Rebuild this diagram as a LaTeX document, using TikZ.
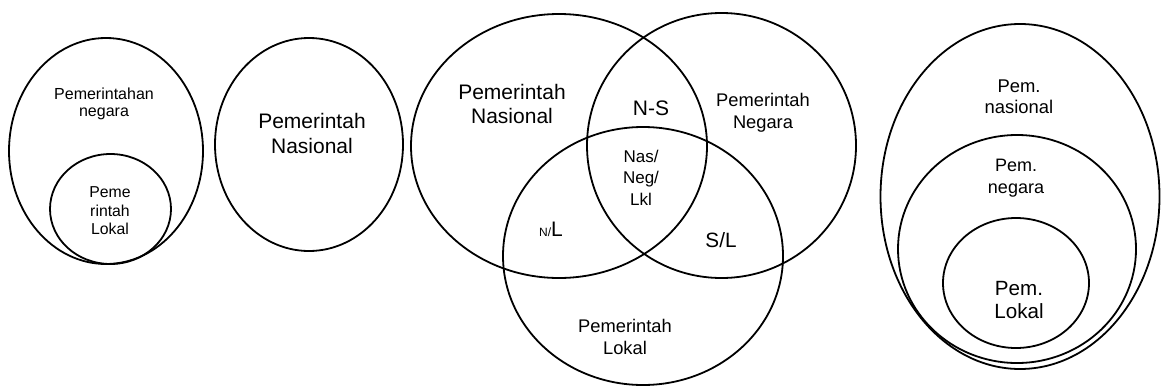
\documentclass[tikz,border=0pt]{standalone}
\usepackage{fontspec}
\setmainfont{Liberation Sans}
\begin{document}
\begin{tikzpicture}[x=1pt,y=-1pt,
  ring/.style={draw=black,line width=1.8pt},
  lbl/.style={inner sep=0pt,anchor=base,text=black}]
\useasboundingbox (0,0) rectangle (1161,388);
% left group
\draw[ring] (106,151) ellipse [x radius=97,y radius=113];
\draw[ring] (110.5,209) ellipse [x radius=60.5,y radius=55];
\node[lbl,font=\fontsize{16}{18}\selectfont] (a1) at (104,99) {Pemerintahan};
\node[lbl,font=\fontsize{16}{18}\selectfont] (a2) at (104,116) {negara};
\node[lbl,font=\fontsize{15.8}{18}\selectfont] (b1) at (110,197) {Peme};
\node[lbl,font=\fontsize{15.8}{18}\selectfont] (b2) at (110,216) {rintah};
\node[lbl,font=\fontsize{15.8}{18}\selectfont] (b3) at (110,234) {Lokal};
% second ellipse
\draw[ring] (309,144.5) ellipse [x radius=94,y radius=106.5];
\node[lbl,font=\fontsize{21}{24}\selectfont] (c1) at (312,128) {Pemerintah};
\node[lbl,font=\fontsize{21}{24}\selectfont] (c2) at (312,153) {Nasional};
% Venn
\draw[ring] (559,146) ellipse [x radius=148,y radius=132];
\draw[ring] (721.5,145.5) ellipse [x radius=134.5,y radius=132.5];
\draw[ring] (643,256) ellipse [x radius=140,y radius=129];
\node[lbl,font=\fontsize{21}{24}\selectfont] (d1) at (512,99) {Pemerintah};
\node[lbl,font=\fontsize{21}{24}\selectfont] (d2) at (512,123) {Nasional};
\node[lbl,font=\fontsize{21}{24}\selectfont] (ns) at (651,115) {N-S};
\node[lbl,font=\fontsize{18.3}{22}\selectfont] (e1) at (763,106) {Pemerintah};
\node[lbl,font=\fontsize{18.3}{22}\selectfont] (e2) at (763,128) {Negara};
\node[lbl,font=\fontsize{17}{20}\selectfont] (t1) at (641,162) {Nas/};
\node[lbl,font=\fontsize{17}{20}\selectfont] (t2) at (641,183) {Neg/};
\node[lbl,font=\fontsize{17}{20}\selectfont] (t3) at (641,205) {Lkl};
\node[lbl] (nl) at (551,236) {\fontsize{12}{14}\selectfont N/\fontsize{21}{24}\selectfont L};
\node[lbl,font=\fontsize{20.7}{24}\selectfont] (sl) at (721,247) {S/L};
\node[lbl,font=\fontsize{18.3}{22}\selectfont] (f1) at (625,332) {Pemerintah};
\node[lbl,font=\fontsize{18.3}{22}\selectfont] (f2) at (625,354) {Lokal};
% right nested
\draw[ring] (1020,196.5) ellipse [x radius=139.5,y radius=172.5];
\draw[ring] (1017,249) ellipse [x radius=119,y radius=114];
\draw[ring] (1016,283) ellipse [x radius=73,y radius=65];
\node[lbl,font=\fontsize{18.4}{22}\selectfont] (g1) at (1019,92) {Pem.};
\node[lbl,font=\fontsize{18.4}{22}\selectfont] (g2) at (1019,113) {nasional};
\node[lbl,font=\fontsize{18}{22}\selectfont] (h1) at (1016,171) {Pem.};
\node[lbl,font=\fontsize{18}{22}\selectfont] (h2) at (1016,193) {negara};
\node[lbl,font=\fontsize{20.6}{24}\selectfont] (k1) at (1019,295) {Pem.};
\node[lbl,font=\fontsize{20.6}{24}\selectfont] (k2) at (1019,318) {Lokal};
\end{tikzpicture}
\end{document}
